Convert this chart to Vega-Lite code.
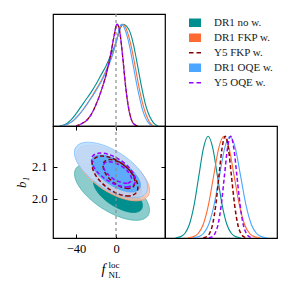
{
"$schema": "https://vega.github.io/schema/vega-lite/v6.json",
"autosize": {"type": "none"},
"padding": {"left": 53, "top": 14, "right": 238, "bottom": 277},
"background": "#ffffff",
"spacing": 0,
"bounds": "flush",
"datasets": {
"zero": [{"f": 0}],
"mf": [
{"s":"DR1 no w.","f":-56,"p":0},{"s":"DR1 no w.","f":-50,"p":0.02},{"s":"DR1 no w.","f":-45,"p":0.06},{"s":"DR1 no w.","f":-40,"p":0.12},{"s":"DR1 no w.","f":-35,"p":0.19},{"s":"DR1 no w.","f":-30,"p":0.26},{"s":"DR1 no w.","f":-25,"p":0.33},{"s":"DR1 no w.","f":-20,"p":0.41},{"s":"DR1 no w.","f":-15,"p":0.5},{"s":"DR1 no w.","f":-10,"p":0.59},{"s":"DR1 no w.","f":-5,"p":0.7},{"s":"DR1 no w.","f":0,"p":0.82},{"s":"DR1 no w.","f":4,"p":0.95},{"s":"DR1 no w.","f":7,"p":1},{"s":"DR1 no w.","f":10.5,"p":0.98},{"s":"DR1 no w.","f":14.5,"p":0.91},{"s":"DR1 no w.","f":17.5,"p":0.8},{"s":"DR1 no w.","f":20.5,"p":0.65},{"s":"DR1 no w.","f":23.5,"p":0.49},{"s":"DR1 no w.","f":26.5,"p":0.34},{"s":"DR1 no w.","f":29.5,"p":0.21},{"s":"DR1 no w.","f":32.5,"p":0.12},{"s":"DR1 no w.","f":35.5,"p":0.06},{"s":"DR1 no w.","f":38.5,"p":0.02},{"s":"DR1 no w.","f":42,"p":0},
{"s":"DR1 FKP w.","f":-54,"p":0},{"s":"DR1 FKP w.","f":-48,"p":0.02},{"s":"DR1 FKP w.","f":-43,"p":0.05},{"s":"DR1 FKP w.","f":-38,"p":0.1},{"s":"DR1 FKP w.","f":-33,"p":0.16},{"s":"DR1 FKP w.","f":-28,"p":0.23},{"s":"DR1 FKP w.","f":-23,"p":0.31},{"s":"DR1 FKP w.","f":-18,"p":0.39},{"s":"DR1 FKP w.","f":-13,"p":0.48},{"s":"DR1 FKP w.","f":-8,"p":0.59},{"s":"DR1 FKP w.","f":-3,"p":0.72},{"s":"DR1 FKP w.","f":1,"p":0.86},{"s":"DR1 FKP w.","f":4,"p":0.96},{"s":"DR1 FKP w.","f":6.5,"p":1},{"s":"DR1 FKP w.","f":9.5,"p":0.97},{"s":"DR1 FKP w.","f":12.5,"p":0.89},{"s":"DR1 FKP w.","f":15.5,"p":0.77},{"s":"DR1 FKP w.","f":18.5,"p":0.62},{"s":"DR1 FKP w.","f":21.5,"p":0.46},{"s":"DR1 FKP w.","f":24.5,"p":0.31},{"s":"DR1 FKP w.","f":27.5,"p":0.19},{"s":"DR1 FKP w.","f":30.5,"p":0.1},{"s":"DR1 FKP w.","f":33.5,"p":0.04},{"s":"DR1 FKP w.","f":37.5,"p":0},
{"s":"DR1 OQE w.","f":-54,"p":0},{"s":"DR1 OQE w.","f":-48,"p":0.02},{"s":"DR1 OQE w.","f":-43,"p":0.05},{"s":"DR1 OQE w.","f":-38,"p":0.1},{"s":"DR1 OQE w.","f":-33,"p":0.16},{"s":"DR1 OQE w.","f":-28,"p":0.23},{"s":"DR1 OQE w.","f":-23,"p":0.3},{"s":"DR1 OQE w.","f":-18,"p":0.38},{"s":"DR1 OQE w.","f":-13,"p":0.47},{"s":"DR1 OQE w.","f":-8,"p":0.58},{"s":"DR1 OQE w.","f":-3,"p":0.71},{"s":"DR1 OQE w.","f":1,"p":0.86},{"s":"DR1 OQE w.","f":4,"p":0.98},{"s":"DR1 OQE w.","f":5.5,"p":1},{"s":"DR1 OQE w.","f":8.5,"p":0.96},{"s":"DR1 OQE w.","f":11.5,"p":0.87},{"s":"DR1 OQE w.","f":14.5,"p":0.74},{"s":"DR1 OQE w.","f":17.5,"p":0.58},{"s":"DR1 OQE w.","f":20.5,"p":0.42},{"s":"DR1 OQE w.","f":23.5,"p":0.28},{"s":"DR1 OQE w.","f":26.5,"p":0.16},{"s":"DR1 OQE w.","f":29.5,"p":0.08},{"s":"DR1 OQE w.","f":32.5,"p":0.03},{"s":"DR1 OQE w.","f":36,"p":0},
{"s":"Y5 FKP w.","f":-40,"p":0},{"s":"Y5 FKP w.","f":-35,"p":0.02},{"s":"Y5 FKP w.","f":-30,"p":0.05},{"s":"Y5 FKP w.","f":-25,"p":0.11},{"s":"Y5 FKP w.","f":-20,"p":0.21},{"s":"Y5 FKP w.","f":-15,"p":0.34},{"s":"Y5 FKP w.","f":-10,"p":0.5},{"s":"Y5 FKP w.","f":-5,"p":0.72},{"s":"Y5 FKP w.","f":-2,"p":0.88},{"s":"Y5 FKP w.","f":1,"p":1},{"s":"Y5 FKP w.","f":3.5,"p":0.94},{"s":"Y5 FKP w.","f":6.5,"p":0.7},{"s":"Y5 FKP w.","f":9.5,"p":0.4},{"s":"Y5 FKP w.","f":12.5,"p":0.18},{"s":"Y5 FKP w.","f":15.5,"p":0.06},{"s":"Y5 FKP w.","f":18.5,"p":0.015},{"s":"Y5 FKP w.","f":22,"p":0},
{"s":"Y5 OQE w.","f":-40,"p":0},{"s":"Y5 OQE w.","f":-35,"p":0.02},{"s":"Y5 OQE w.","f":-30,"p":0.05},{"s":"Y5 OQE w.","f":-25,"p":0.11},{"s":"Y5 OQE w.","f":-20,"p":0.21},{"s":"Y5 OQE w.","f":-15,"p":0.34},{"s":"Y5 OQE w.","f":-10,"p":0.5},{"s":"Y5 OQE w.","f":-5,"p":0.72},{"s":"Y5 OQE w.","f":-2,"p":0.88},{"s":"Y5 OQE w.","f":1,"p":1},{"s":"Y5 OQE w.","f":3.5,"p":0.94},{"s":"Y5 OQE w.","f":6.5,"p":0.7},{"s":"Y5 OQE w.","f":9.5,"p":0.4},{"s":"Y5 OQE w.","f":12.5,"p":0.18},{"s":"Y5 OQE w.","f":15.5,"p":0.06},{"s":"Y5 OQE w.","f":18.5,"p":0.015},{"s":"Y5 OQE w.","f":22,"p":0}
],
"mb": [
{"s":"DR1 no w.","b":1.9105,"p":0.002},{"s":"DR1 no w.","b":1.925,"p":0.011},{"s":"DR1 no w.","b":1.9395,"p":0.044},{"s":"DR1 no w.","b":1.954,"p":0.135},{"s":"DR1 no w.","b":1.9685,"p":0.325},{"s":"DR1 no w.","b":1.983,"p":0.607},{"s":"DR1 no w.","b":1.9975,"p":0.883},{"s":"DR1 no w.","b":2.012,"p":1},{"s":"DR1 no w.","b":2.0265,"p":0.883},{"s":"DR1 no w.","b":2.041,"p":0.607},{"s":"DR1 no w.","b":2.0555,"p":0.325},{"s":"DR1 no w.","b":2.07,"p":0.135},{"s":"DR1 no w.","b":2.0845,"p":0.044},{"s":"DR1 no w.","b":2.099,"p":0.011},{"s":"DR1 no w.","b":2.1135,"p":0.002},
{"s":"DR1 FKP w.","b":1.949,"p":0.002},{"s":"DR1 FKP w.","b":1.965,"p":0.011},{"s":"DR1 FKP w.","b":1.981,"p":0.044},{"s":"DR1 FKP w.","b":1.997,"p":0.135},{"s":"DR1 FKP w.","b":2.013,"p":0.325},{"s":"DR1 FKP w.","b":2.029,"p":0.607},{"s":"DR1 FKP w.","b":2.045,"p":0.883},{"s":"DR1 FKP w.","b":2.061,"p":1},{"s":"DR1 FKP w.","b":2.077,"p":0.883},{"s":"DR1 FKP w.","b":2.093,"p":0.607},{"s":"DR1 FKP w.","b":2.109,"p":0.325},{"s":"DR1 FKP w.","b":2.125,"p":0.135},{"s":"DR1 FKP w.","b":2.141,"p":0.044},{"s":"DR1 FKP w.","b":2.157,"p":0.011},{"s":"DR1 FKP w.","b":2.173,"p":0.002},
{"s":"DR1 OQE w.","b":1.9645,"p":0.002},{"s":"DR1 OQE w.","b":1.981,"p":0.011},{"s":"DR1 OQE w.","b":1.9975,"p":0.044},{"s":"DR1 OQE w.","b":2.014,"p":0.135},{"s":"DR1 OQE w.","b":2.0305,"p":0.325},{"s":"DR1 OQE w.","b":2.047,"p":0.607},{"s":"DR1 OQE w.","b":2.0635,"p":0.883},{"s":"DR1 OQE w.","b":2.08,"p":1},{"s":"DR1 OQE w.","b":2.0965,"p":0.883},{"s":"DR1 OQE w.","b":2.113,"p":0.607},{"s":"DR1 OQE w.","b":2.1295,"p":0.325},{"s":"DR1 OQE w.","b":2.146,"p":0.135},{"s":"DR1 OQE w.","b":2.1625,"p":0.044},{"s":"DR1 OQE w.","b":2.179,"p":0.011},{"s":"DR1 OQE w.","b":2.1955,"p":0.002},
{"s":"Y5 FKP w.","b":1.9968,"p":0.002},{"s":"Y5 FKP w.","b":2.0065,"p":0.011},{"s":"Y5 FKP w.","b":2.0163,"p":0.044},{"s":"Y5 FKP w.","b":2.026,"p":0.135},{"s":"Y5 FKP w.","b":2.0358,"p":0.325},{"s":"Y5 FKP w.","b":2.0455,"p":0.607},{"s":"Y5 FKP w.","b":2.0553,"p":0.883},{"s":"Y5 FKP w.","b":2.065,"p":1},{"s":"Y5 FKP w.","b":2.0748,"p":0.883},{"s":"Y5 FKP w.","b":2.0845,"p":0.607},{"s":"Y5 FKP w.","b":2.0943,"p":0.325},{"s":"Y5 FKP w.","b":2.104,"p":0.135},{"s":"Y5 FKP w.","b":2.1138,"p":0.044},{"s":"Y5 FKP w.","b":2.1235,"p":0.011},{"s":"Y5 FKP w.","b":2.1333,"p":0.002},
{"s":"Y5 OQE w.","b":2.0138,"p":0.002},{"s":"Y5 OQE w.","b":2.0235,"p":0.011},{"s":"Y5 OQE w.","b":2.0333,"p":0.044},{"s":"Y5 OQE w.","b":2.043,"p":0.135},{"s":"Y5 OQE w.","b":2.0528,"p":0.325},{"s":"Y5 OQE w.","b":2.0625,"p":0.607},{"s":"Y5 OQE w.","b":2.0723,"p":0.883},{"s":"Y5 OQE w.","b":2.082,"p":1},{"s":"Y5 OQE w.","b":2.0918,"p":0.883},{"s":"Y5 OQE w.","b":2.1015,"p":0.607},{"s":"Y5 OQE w.","b":2.1113,"p":0.325},{"s":"Y5 OQE w.","b":2.121,"p":0.135},{"s":"Y5 OQE w.","b":2.1308,"p":0.044},{"s":"Y5 OQE w.","b":2.1405,"p":0.011},{"s":"Y5 OQE w.","b":2.1503,"p":0.002}
],
"ct": [
{"g":"t95","i":0,"f":32.1,"b":1.9475},{"g":"t95","i":1,"f":22.1,"b":1.9324},{"g":"t95","i":2,"f":5.1,"b":1.941},{"g":"t95","i":3,"f":-14.4,"b":1.9709},{"g":"t95","i":4,"f":-31.0,"b":2.0142},{"g":"t95","i":5,"f":-40.4,"b":2.0593},{"g":"t95","i":6,"f":-40.1,"b":2.094},{"g":"t95","i":7,"f":-30.1,"b":2.1091},{"g":"t95","i":8,"f":-13.1,"b":2.1005},{"g":"t95","i":9,"f":6.4,"b":2.0706},{"g":"t95","i":10,"f":23.0,"b":2.0272},{"g":"t95","i":11,"f":32.4,"b":1.9822},
{"g":"t68","i":0,"f":25.5,"b":1.9668},{"g":"t68","i":1,"f":18.9,"b":1.9568},{"g":"t68","i":2,"f":7.9,"b":1.9623},{"g":"t68","i":3,"f":-4.8,"b":1.9817},{"g":"t68","i":4,"f":-15.7,"b":2.01},{"g":"t68","i":5,"f":-21.8,"b":2.0394},{"g":"t68","i":6,"f":-21.5,"b":2.0622},{"g":"t68","i":7,"f":-14.9,"b":2.0722},{"g":"t68","i":8,"f":-3.9,"b":2.0667},{"g":"t68","i":9,"f":8.8,"b":2.0473},{"g":"t68","i":10,"f":19.7,"b":2.019},{"g":"t68","i":11,"f":25.8,"b":1.9896},
{"g":"o95","i":0,"f":32.2,"b":2.0086},{"g":"o95","i":1,"f":22.3,"b":1.9933},{"g":"o95","i":2,"f":5.7,"b":2.0012},{"g":"o95","i":3,"f":-13.4,"b":2.0303},{"g":"o95","i":4,"f":-29.6,"b":2.0728},{"g":"o95","i":5,"f":-38.7,"b":2.1171},{"g":"o95","i":6,"f":-38.2,"b":2.1516},{"g":"o95","i":7,"f":-28.3,"b":2.1669},{"g":"o95","i":8,"f":-11.7,"b":2.159},{"g":"o95","i":9,"f":7.4,"b":2.1299},{"g":"o95","i":10,"f":23.6,"b":2.0874},{"g":"o95","i":11,"f":32.7,"b":2.0431},
{"g":"o68","i":0,"f":24.5,"b":2.0137},{"g":"o68","i":1,"f":17.9,"b":2.0037},{"g":"o68","i":2,"f":6.9,"b":2.0091},{"g":"o68","i":3,"f":-5.8,"b":2.0286},{"g":"o68","i":4,"f":-16.7,"b":2.0568},{"g":"o68","i":5,"f":-22.8,"b":2.0863},{"g":"o68","i":6,"f":-22.5,"b":2.109},{"g":"o68","i":7,"f":-15.9,"b":2.119},{"g":"o68","i":8,"f":-4.9,"b":2.1136},{"g":"o68","i":9,"f":7.8,"b":2.0941},{"g":"o68","i":10,"f":18.7,"b":2.0659},{"g":"o68","i":11,"f":24.8,"b":2.0364},
{"g":"b95","i":0,"f":30.2,"b":2.018},{"g":"b95","i":1,"f":20.3,"b":2.0027},{"g":"b95","i":2,"f":3.7,"b":2.0106},{"g":"b95","i":3,"f":-15.4,"b":2.0397},{"g":"b95","i":4,"f":-31.6,"b":2.0822},{"g":"b95","i":5,"f":-40.7,"b":2.1265},{"g":"b95","i":6,"f":-40.2,"b":2.161},{"g":"b95","i":7,"f":-30.3,"b":2.1763},{"g":"b95","i":8,"f":-13.7,"b":2.1684},{"g":"b95","i":9,"f":5.4,"b":2.1393},{"g":"b95","i":10,"f":21.6,"b":2.0968},{"g":"b95","i":11,"f":30.7,"b":2.0525},
{"g":"b68","i":0,"f":23.5,"b":2.0309},{"g":"b68","i":1,"f":16.9,"b":2.0209},{"g":"b68","i":2,"f":5.9,"b":2.0263},{"g":"b68","i":3,"f":-6.8,"b":2.0458},{"g":"b68","i":4,"f":-17.7,"b":2.074},{"g":"b68","i":5,"f":-23.8,"b":2.1035},{"g":"b68","i":6,"f":-23.5,"b":2.1262},{"g":"b68","i":7,"f":-16.9,"b":2.1362},{"g":"b68","i":8,"f":-5.9,"b":2.1308},{"g":"b68","i":9,"f":6.8,"b":2.1113},{"g":"b68","i":10,"f":17.7,"b":2.0831},{"g":"b68","i":11,"f":23.8,"b":2.0536},
{"g":"r95","i":0,"f":20.3,"b":2.0188},{"g":"r95","i":1,"f":13.1,"b":2.0085},{"g":"r95","i":2,"f":2.2,"b":2.0149},{"g":"r95","i":3,"f":-9.6,"b":2.0363},{"g":"r95","i":4,"f":-19.1,"b":2.0669},{"g":"r95","i":5,"f":-23.7,"b":2.0985},{"g":"r95","i":6,"f":-22.3,"b":2.1227},{"g":"r95","i":7,"f":-15.1,"b":2.133},{"g":"r95","i":8,"f":-4.2,"b":2.1266},{"g":"r95","i":9,"f":7.6,"b":2.1052},{"g":"r95","i":10,"f":17.1,"b":2.0746},{"g":"r95","i":11,"f":21.7,"b":2.043},
{"g":"r68","i":0,"f":17.6,"b":2.0388},{"g":"r68","i":1,"f":12.4,"b":2.032},{"g":"r68","i":2,"f":4.7,"b":2.0372},{"g":"r68","i":3,"f":-3.4,"b":2.0531},{"g":"r68","i":4,"f":-9.9,"b":2.0754},{"g":"r68","i":5,"f":-12.8,"b":2.0981},{"g":"r68","i":6,"f":-11.6,"b":2.1152},{"g":"r68","i":7,"f":-6.4,"b":2.122},{"g":"r68","i":8,"f":1.3,"b":2.1168},{"g":"r68","i":9,"f":9.4,"b":2.1009},{"g":"r68","i":10,"f":15.9,"b":2.0786},{"g":"r68","i":11,"f":18.8,"b":2.0559},
{"g":"v95","i":0,"f":18.5,"b":2.0469},{"g":"v95","i":1,"f":12.4,"b":2.0369},{"g":"v95","i":2,"f":2.3,"b":2.0409},{"g":"v95","i":3,"f":-9.0,"b":2.058},{"g":"v95","i":4,"f":-18.7,"b":2.0836},{"g":"v95","i":5,"f":-23.9,"b":2.1106},{"g":"v95","i":6,"f":-23.5,"b":2.1321},{"g":"v95","i":7,"f":-17.4,"b":2.1421},{"g":"v95","i":8,"f":-7.3,"b":2.1381},{"g":"v95","i":9,"f":4.0,"b":2.121},{"g":"v95","i":10,"f":13.7,"b":2.0954},{"g":"v95","i":11,"f":18.9,"b":2.0684},
{"g":"v68","i":0,"f":14.9,"b":2.0544},{"g":"v68","i":1,"f":11.1,"b":2.0482},{"g":"v68","i":2,"f":4.7,"b":2.051},{"g":"v68","i":3,"f":-2.6,"b":2.062},{"g":"v68","i":4,"f":-8.8,"b":2.0783},{"g":"v68","i":5,"f":-12.2,"b":2.0954},{"g":"v68","i":6,"f":-11.9,"b":2.1089},{"g":"v68","i":7,"f":-8.1,"b":2.1151},{"g":"v68","i":8,"f":-1.7,"b":2.1123},{"g":"v68","i":9,"f":5.6,"b":2.1013},{"g":"v68","i":10,"f":11.8,"b":2.0851},{"g":"v68","i":11,"f":15.2,"b":2.0679}
]
},
"vconcat": [
{
"width": 112, "height": 112,
"layer": [
{"data": {"name": "zero"},
 "mark": {"type": "rule", "color": "#8c8c8c", "strokeDash": [3, 3], "strokeWidth": 1.2},
 "encoding": {"x": {"field": "f", "type": "quantitative", "scale": {"domain": [-63, 49], "nice": false, "zero": false}, "axis": {"orient": "bottom", "values": [-40, 0], "labels": false, "title": null}}}},
{"data": {"name": "mf"},
 "transform": [{"filter": "datum.p === 0 && datum.f < -50"}],
 "mark": {"type": "line", "clip": true},
 "encoding": {
  "x": {"field": "f", "type": "quantitative", "scale": {"domain": [-63, 49], "nice": false, "zero": false}, "axis": null},
  "y": {"field": "p", "type": "quantitative", "scale": {"domain": [0, 1.1], "nice": false, "zero": false}, "axis": null},
  "color": {"field": "s", "type": "nominal",
   "scale": {"domain": ["DR1 no w.", "DR1 FKP w.", "Y5 FKP w.", "DR1 OQE w.", "Y5 OQE w."], "range": ["#008f8f", "#ff6a33", "#8b0000", "#4aa6ff", "#9a00ff"]},
   "legend": {"orient": "none", "legendX": 131.5, "legendY": 2.7, "title": null, "labelFont": "Liberation Serif", "labelFontSize": 11, "labelColor": "#1a1a1a", "labelOffset": 8.5, "symbolSize": 144, "rowPadding": 3, "clipHeight": 12}},
  "strokeDash": {"field": "s", "type": "nominal",
   "scale": {"type": "ordinal", "domain": ["DR1 no w.", "DR1 FKP w.", "Y5 FKP w.", "DR1 OQE w.", "Y5 OQE w."], "range": [[1, 0], [1, 0], [4.5, 3], [1, 0], [4.5, 3]]},
   "legend": {"orient": "none", "legendX": 131.5, "legendY": 2.7, "title": null, "labelFont": "Liberation Serif", "labelFontSize": 11, "labelColor": "#1a1a1a", "labelOffset": 8.5, "symbolSize": 144, "rowPadding": 3, "clipHeight": 12}},
  "strokeWidth": {"field": "s", "type": "nominal",
   "scale": {"type": "ordinal", "domain": ["DR1 no w.", "DR1 FKP w.", "Y5 FKP w.", "DR1 OQE w.", "Y5 OQE w."], "range": [8.5, 8.5, 1.5, 8.5, 1.5]},
   "legend": {"orient": "none", "legendX": 131.5, "legendY": 2.7, "title": null, "labelFont": "Liberation Serif", "labelFontSize": 11, "labelColor": "#1a1a1a", "labelOffset": 8.5, "symbolSize": 144, "rowPadding": 3, "clipHeight": 12}}}},
{"data": {"name": "mf"},
 "transform": [{"filter": "indexof(datum.s, 'DR1') === 0"}],
 "mark": {"type": "line", "interpolate": "monotone", "strokeWidth": 1.1, "clip": true},
 "encoding": {
  "x": {"field": "f", "type": "quantitative", "scale": {"domain": [-63, 49], "nice": false, "zero": false}, "axis": null},
  "y": {"field": "p", "type": "quantitative", "scale": {"domain": [0, 1.1], "nice": false, "zero": false}, "axis": null},
  "color": {"field": "s", "type": "nominal", "scale": {"domain": ["DR1 no w.", "DR1 FKP w.", "Y5 FKP w.", "DR1 OQE w.", "Y5 OQE w."], "range": ["#008f8f", "#ff6a33", "#8b0000", "#4aa6ff", "#9a00ff"]}, "legend": null}}},
{"data": {"name": "mf"},
 "transform": [{"filter": "datum.s === 'Y5 FKP w.'"}],
 "mark": {"type": "line", "interpolate": "monotone", "strokeWidth": 1.3, "strokeDash": [4, 2], "clip": true},
 "encoding": {
  "x": {"field": "f", "type": "quantitative", "scale": {"domain": [-63, 49], "nice": false, "zero": false}, "axis": null},
  "y": {"field": "p", "type": "quantitative", "scale": {"domain": [0, 1.1], "nice": false, "zero": false}, "axis": null},
  "color": {"field": "s", "type": "nominal", "scale": {"domain": ["DR1 no w.", "DR1 FKP w.", "Y5 FKP w.", "DR1 OQE w.", "Y5 OQE w."], "range": ["#008f8f", "#ff6a33", "#8b0000", "#4aa6ff", "#9a00ff"]}, "legend": null}}},
{"data": {"name": "mf"},
 "transform": [{"filter": "datum.s === 'Y5 OQE w.'"}],
 "mark": {"type": "line", "interpolate": "monotone", "strokeWidth": 1.3, "strokeDash": [4, 2], "strokeDashOffset": 2, "clip": true},
 "encoding": {
  "x": {"field": "f", "type": "quantitative", "scale": {"domain": [-63, 49], "nice": false, "zero": false}, "axis": null},
  "y": {"field": "p", "type": "quantitative", "scale": {"domain": [0, 1.1], "nice": false, "zero": false}, "axis": null},
  "color": {"field": "s", "type": "nominal", "scale": {"domain": ["DR1 no w.", "DR1 FKP w.", "Y5 FKP w.", "DR1 OQE w.", "Y5 OQE w."], "range": ["#008f8f", "#ff6a33", "#8b0000", "#4aa6ff", "#9a00ff"]}, "legend": null}}}
]
},
{
"hconcat": [
{
"width": 112, "height": 112,
"resolve": {"axis": {"x": "independent", "y": "independent"}},
"layer": [
{"data": {"name": "ct"}, "transform": [{"filter": "datum.g === 't95'"}],
 "mark": {"type": "line", "interpolate": "cardinal-closed", "fill": "#8ccccc", "fillOpacity": 1, "stroke": "#4db1b1", "strokeWidth": 0.8, "clip": true},
 "encoding": {
  "x": {"field": "f", "type": "quantitative", "scale": {"domain": [-63, 49], "nice": false, "zero": false},
   "axis": {"orient": "bottom", "values": [-40, 0], "format": "d", "title": "f", "titleFontStyle": "italic", "titleFontSize": 14, "titleX": 50, "titleY": 35, "titleBaseline": "alphabetic", "titleAlign": "center"}},
  "y": {"field": "b", "type": "quantitative", "scale": {"domain": [1.877, 2.227], "nice": false, "zero": false},
   "axis": {"orient": "left", "values": [2.0, 2.1], "format": ".1f", "title": "b₁", "titleFontStyle": "italic", "titleFontSize": 13, "titleX": -28, "titleY": 56, "titleAngle": -90, "titleBaseline": "alphabetic", "titleAlign": "center"}},
  "order": {"field": "i", "type": "quantitative"}}},
{"data": {"name": "ct"}, "transform": [{"filter": "datum.g === 't68'"}],
 "mark": {"type": "line", "interpolate": "cardinal-closed", "fill": "#008f8f", "fillOpacity": 1, "stroke": "#008f8f", "strokeWidth": 0.8, "clip": true},
 "encoding": {
  "x": {"field": "f", "type": "quantitative", "scale": {"domain": [-63, 49], "nice": false, "zero": false},
   "axis": {"orient": "bottom", "ticks": false, "labels": false, "title": ["loc", "NL"], "titleFontSize": 9, "titleLineHeight": 9.5, "titleX": 55, "titleY": 29.5, "titleAlign": "left", "titleBaseline": "alphabetic", "titleFontStyle": "normal"}},
  "y": {"field": "b", "type": "quantitative", "scale": {"domain": [1.877, 2.227], "nice": false, "zero": false},
   "axis": {"orient": "right", "values": [2.0, 2.1], "labels": false, "title": null}},
  "order": {"field": "i", "type": "quantitative"}}},
{"data": {"name": "ct"}, "transform": [{"filter": "datum.g === 'o95'"}],
 "mark": {"type": "line", "interpolate": "cardinal-closed", "fill": "#ffc3ad", "fillOpacity": 0.85, "stroke": "#ff9f7d", "strokeWidth": 0.8, "clip": true},
 "encoding": {
  "x": {"field": "f", "type": "quantitative", "scale": {"domain": [-63, 49], "nice": false, "zero": false}, "axis": null},
  "y": {"field": "b", "type": "quantitative", "scale": {"domain": [1.877, 2.227], "nice": false, "zero": false}, "axis": null},
  "order": {"field": "i", "type": "quantitative"}}},
{"data": {"name": "ct"}, "transform": [{"filter": "datum.g === 'o68'"}],
 "mark": {"type": "line", "interpolate": "cardinal-closed", "fill": "#ff6a33", "fillOpacity": 0.85, "stroke": "#ff6a33", "strokeWidth": 0.8, "clip": true},
 "encoding": {
  "x": {"field": "f", "type": "quantitative", "scale": {"domain": [-63, 49], "nice": false, "zero": false}, "axis": null},
  "y": {"field": "b", "type": "quantitative", "scale": {"domain": [1.877, 2.227], "nice": false, "zero": false}, "axis": null},
  "order": {"field": "i", "type": "quantitative"}}},
{"data": {"name": "ct"}, "transform": [{"filter": "datum.g === 'b95'"}],
 "mark": {"type": "line", "interpolate": "cardinal-closed", "fill": "#b7dbff", "fillOpacity": 0.85, "stroke": "#80c0ff", "strokeWidth": 0.8, "clip": true},
 "encoding": {
  "x": {"field": "f", "type": "quantitative", "scale": {"domain": [-63, 49], "nice": false, "zero": false}, "axis": null},
  "y": {"field": "b", "type": "quantitative", "scale": {"domain": [1.877, 2.227], "nice": false, "zero": false}, "axis": null},
  "order": {"field": "i", "type": "quantitative"}}},
{"data": {"name": "ct"}, "transform": [{"filter": "datum.g === 'b68'"}],
 "mark": {"type": "line", "interpolate": "cardinal-closed", "fill": "#4aa6ff", "fillOpacity": 0.85, "stroke": "#4aa6ff", "strokeWidth": 0.8, "clip": true},
 "encoding": {
  "x": {"field": "f", "type": "quantitative", "scale": {"domain": [-63, 49], "nice": false, "zero": false}, "axis": null},
  "y": {"field": "b", "type": "quantitative", "scale": {"domain": [1.877, 2.227], "nice": false, "zero": false}, "axis": null},
  "order": {"field": "i", "type": "quantitative"}}},
{"data": {"name": "ct"}, "transform": [{"filter": "datum.g === 'r95' || datum.g === 'r68'"}],
 "mark": {"type": "line", "interpolate": "cardinal-closed", "stroke": "#8b0000", "strokeWidth": 1.5, "strokeDash": [4, 2.5], "clip": true},
 "encoding": {
  "x": {"field": "f", "type": "quantitative", "scale": {"domain": [-63, 49], "nice": false, "zero": false}, "axis": null},
  "y": {"field": "b", "type": "quantitative", "scale": {"domain": [1.877, 2.227], "nice": false, "zero": false}, "axis": null},
  "detail": {"field": "g"},
  "order": {"field": "i", "type": "quantitative"}}},
{"data": {"name": "ct"}, "transform": [{"filter": "datum.g === 'v95' || datum.g === 'v68'"}],
 "mark": {"type": "line", "interpolate": "cardinal-closed", "stroke": "#9a00ff", "strokeWidth": 1.5, "strokeDash": [4, 2.5], "clip": true},
 "encoding": {
  "x": {"field": "f", "type": "quantitative", "scale": {"domain": [-63, 49], "nice": false, "zero": false}, "axis": null},
  "y": {"field": "b", "type": "quantitative", "scale": {"domain": [1.877, 2.227], "nice": false, "zero": false}, "axis": null},
  "detail": {"field": "g"},
  "order": {"field": "i", "type": "quantitative"}}},
{"data": {"name": "zero"},
 "mark": {"type": "rule", "color": "#8c8c8c", "strokeDash": [3, 3], "strokeWidth": 1.2},
 "encoding": {"x": {"field": "f", "type": "quantitative", "scale": {"domain": [-63, 49], "nice": false, "zero": false}, "axis": {"orient": "top", "values": [-40, 0], "labels": false, "title": null}}}}
]
},
{
"width": 112, "height": 112,
"layer": [
{"data": {"name": "mb"},
 "transform": [{"filter": "indexof(datum.s, 'DR1') === 0"}],
 "mark": {"type": "line", "interpolate": "monotone", "strokeWidth": 1.1, "clip": true},
 "encoding": {
  "x": {"field": "b", "type": "quantitative", "scale": {"domain": [1.878, 2.226], "nice": false, "zero": false},
   "axis": {"orient": "bottom", "values": [2.0, 2.1], "format": ".1f", "title": "b₁", "titleFontStyle": "italic", "titleFontSize": 13, "titleY": 35, "titleBaseline": "alphabetic"}},
  "y": {"field": "p", "type": "quantitative", "scale": {"domain": [0, 1.1], "nice": false, "zero": false}, "axis": null},
  "color": {"field": "s", "type": "nominal", "scale": {"domain": ["DR1 no w.", "DR1 FKP w.", "Y5 FKP w.", "DR1 OQE w.", "Y5 OQE w."], "range": ["#008f8f", "#ff6a33", "#8b0000", "#4aa6ff", "#9a00ff"]}, "legend": null}}},
{"data": {"name": "mb"},
 "transform": [{"filter": "datum.s === 'Y5 FKP w.'"}],
 "mark": {"type": "line", "interpolate": "monotone", "strokeWidth": 1.5, "strokeDash": [4, 2.5], "clip": true},
 "encoding": {
  "x": {"field": "b", "type": "quantitative", "scale": {"domain": [1.878, 2.226], "nice": false, "zero": false}, "axis": null},
  "y": {"field": "p", "type": "quantitative", "scale": {"domain": [0, 1.1], "nice": false, "zero": false}, "axis": null},
  "color": {"field": "s", "type": "nominal", "scale": {"domain": ["DR1 no w.", "DR1 FKP w.", "Y5 FKP w.", "DR1 OQE w.", "Y5 OQE w."], "range": ["#008f8f", "#ff6a33", "#8b0000", "#4aa6ff", "#9a00ff"]}, "legend": null}}},
{"data": {"name": "mb"},
 "transform": [{"filter": "datum.s === 'Y5 OQE w.'"}],
 "mark": {"type": "line", "interpolate": "monotone", "strokeWidth": 1.5, "strokeDash": [4, 2.5], "clip": true},
 "encoding": {
  "x": {"field": "b", "type": "quantitative", "scale": {"domain": [1.878, 2.226], "nice": false, "zero": false}, "axis": null},
  "y": {"field": "p", "type": "quantitative", "scale": {"domain": [0, 1.1], "nice": false, "zero": false}, "axis": null},
  "color": {"field": "s", "type": "nominal", "scale": {"domain": ["DR1 no w.", "DR1 FKP w.", "Y5 FKP w.", "DR1 OQE w.", "Y5 OQE w."], "range": ["#008f8f", "#ff6a33", "#8b0000", "#4aa6ff", "#9a00ff"]}, "legend": null}}}
]
}
],
"spacing": 0,
"bounds": "flush"
}
],
"config": {
 "view": {"stroke": "#000000", "strokeWidth": 1.2},
 "axis": {"domain": false, "grid": false, "tickColor": "#000000", "tickSize": -4, "tickWidth": 1, "labelFont": "Liberation Serif", "labelFontSize": 12.5, "labelColor": "#000000", "labelPadding": 8.5, "titleFont": "Liberation Serif", "titleColor": "#000000", "titleFontWeight": "normal"},
 "axisLeft": {"labelPadding": 10}
}
}
